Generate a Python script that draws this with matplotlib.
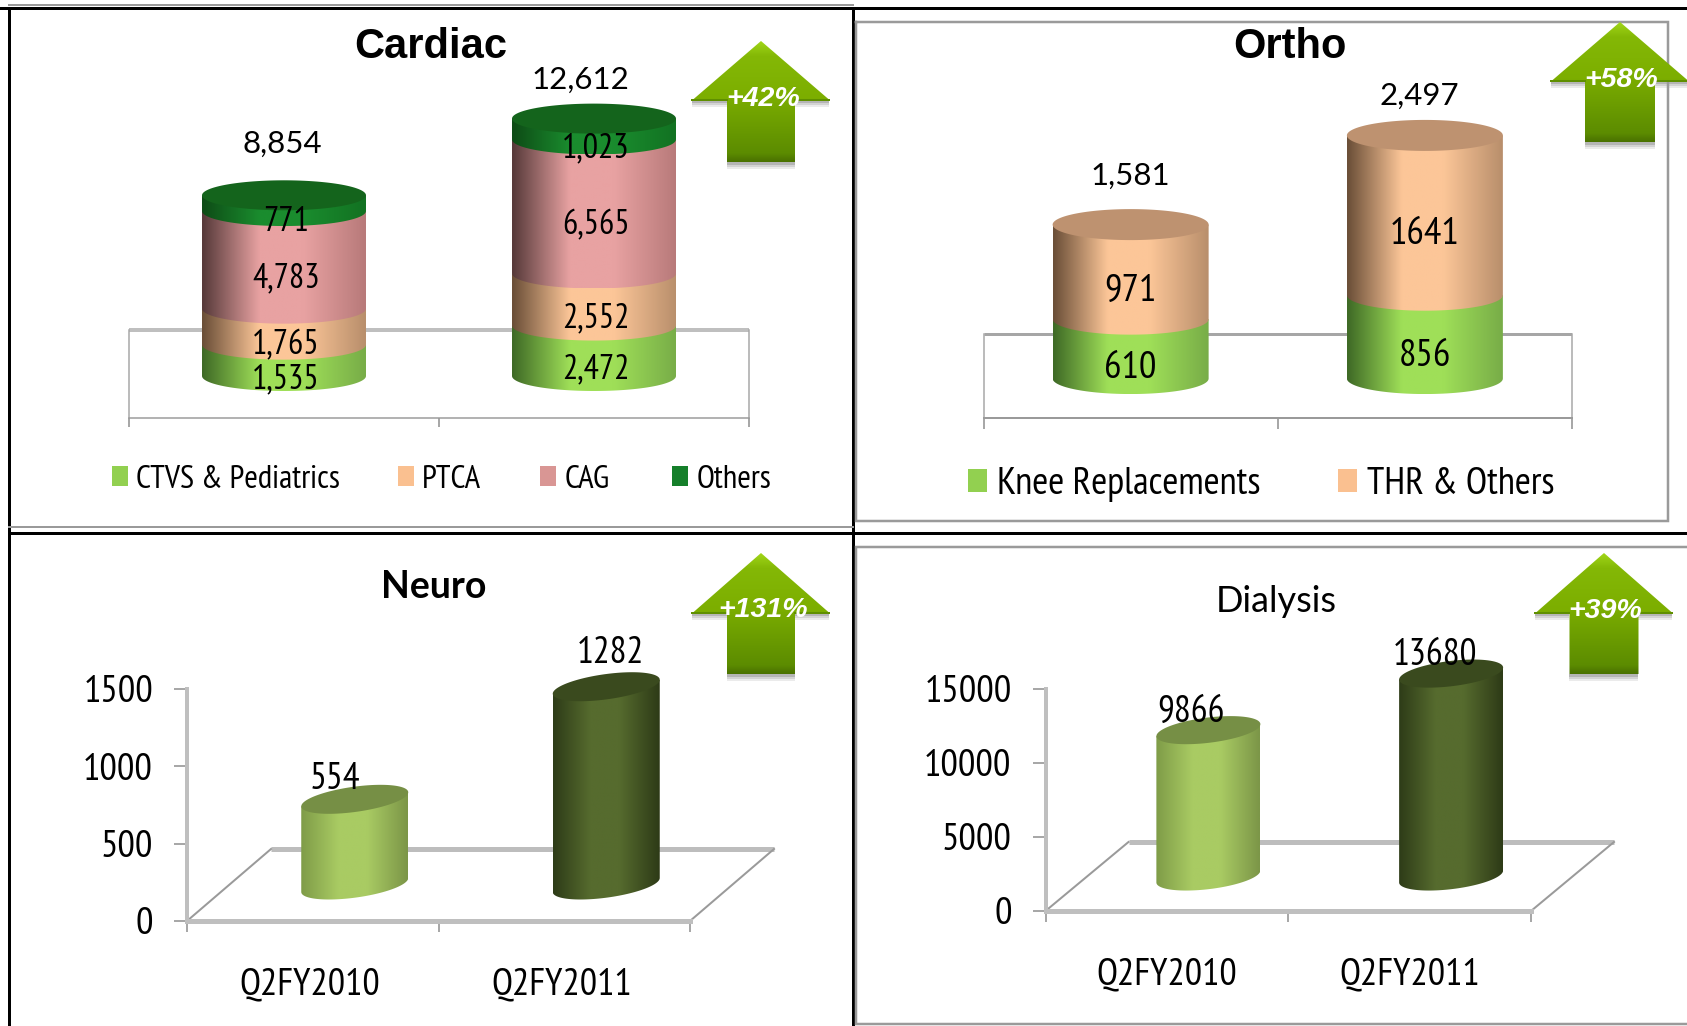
# plot.py
# Four small cylinder charts (Cardiac, Ortho, Neuro, Dialysis) with growth arrows.
import numpy as np
import matplotlib
matplotlib.use('Agg')
import matplotlib.pyplot as plt
from matplotlib.patches import Polygon, Rectangle

W, H = 1687, 1026
NARROW = ['PT Sans Narrow', 'Archivo Narrow', 'Lato', 'DejaVu Sans']
REG = ['Lato', 'DejaVu Sans']
ARIAL = ['Liberation Sans', 'DejaVu Sans']

# Cardiac
cardiac_series = ['CTVS & Pediatrics', 'PTCA', 'CAG', 'Others']
cardiac_2010 = [1535, 1765, 4783, 771]
cardiac_2011 = [2472, 2552, 6565, 1023]
cardiac_totals = [8854, 12612]

# Ortho
ortho_series = ['Knee Replacements', 'THR & Others']
ortho_2010 = [610, 971]
ortho_2011 = [856, 1641]
ortho_totals = [1581, 2497]

# Neuro and Dialysis
quarters = ['Q2FY2010', 'Q2FY2011']
neuro_values = [554, 1282]
neuro_ticks = [0, 500, 1000, 1500]
dialysis_values = [9866, 13680]
dialysis_ticks = [0, 5000, 10000, 15000]

# side colours: left edge, centre, right edge
C_GREEN = ('#3f6a26', '#9fdf58', '#78ad48')
C_PEACH = ('#6b4f38', '#fcc698', '#b98f6c')
C_PINK = ('#573a3a', '#e8a2a2', '#b87a7a')
C_DARK = ('#0e4c16', '#1a8c2e', '#127222')
C_LIGHT = ('#7f9c48', '#a9cb63', '#7c9648')
C_OLIVE = ('#2e3c18', '#566b2e', '#2e3b17')

plt.rcParams['font.family'] = NARROW
fig = plt.figure(figsize=(W / 100, H / 100), dpi=100)


def px(v):
    return v * 0.72


def make_axes(left, top, right, bottom, units_per_px, ymin=0):
    ax = fig.add_axes([left / W, 1 - bottom / H, (right - left) / W, (bottom - top) / H])
    ax.patch.set_alpha(0)
    ax.set_xlim(0, 2)
    ax.set_ylim(ymin, ymin + (bottom - top) * units_per_px)
    ax.set_autoscale_on(False)
    for s in ['top', 'right', 'left', 'bottom']:
        ax.spines[s].set_visible(False)
    ax.set_yticks([])
    return ax


def gradient(ax, extent, colors, clip, zo):
    stops = [0, 0.35, 0.62, 1]
    rgb = np.array([matplotlib.colors.to_rgb(c) for c in (colors[0], colors[1], colors[1], colors[2])])
    xs = np.linspace(0, 1, 80)
    row = np.stack([np.interp(xs, stops, rgb[:, i]) for i in range(3)], axis=1)
    im = ax.imshow(row[None, :, :], extent=extent, aspect='auto', zorder=zo, interpolation='bilinear')
    ax.add_patch(clip)
    im.set_clip_path(clip)
    return im


def cylinder(ax, x, base, values, palettes, top_color, a, b, s=0, zo=3):
    t = np.linspace(np.pi, 2 * np.pi, 60)
    arc_x = x + a * np.cos(t)
    cum = 0
    for val, pal in zip(values, palettes):
        y0 = base + cum
        y1 = y0 + val
        pts = np.column_stack([arc_x, y0 + b * np.sin(t) + s * np.cos(t)])
        pts = np.vstack([pts, [x + a, y1 + s], [x - a, y1 - s]])
        clip = Polygon(pts, closed=True, fc='none', ec='none', zorder=zo)
        gradient(ax, [x - a, x + a, y0 - b - abs(s), y1 + abs(s)], pal, clip, zo)
        cum += val
        zo += 1
    t = np.linspace(0, 2 * np.pi, 120)
    face = np.column_stack([x + a * np.cos(t), base + cum + b * np.sin(t) + s * np.cos(t)])
    ax.add_patch(Polygon(face, closed=True, fc=top_color, ec='none', zorder=zo))


def floor_box(ax, back_y, color, back_w, side_w, front_w, tick_len):
    # flat "floor" of the stacked charts: back line, two sides, bottom axis
    ax.plot([0, 2], [back_y, back_y], color=color, lw=px(back_w), zorder=1, solid_capstyle='butt')
    for sp in ['left', 'right']:
        ax.spines[sp].set_visible(True)
        ax.spines[sp].set_color('#a6a6a6')
        ax.spines[sp].set_linewidth(px(side_w))
        ax.spines[sp].set_bounds(ax.get_ylim()[0], back_y)
    ax.spines['bottom'].set_visible(True)
    ax.spines['bottom'].set_color('#9a9a9a')
    ax.spines['bottom'].set_linewidth(px(front_w))
    ax.set_xticks([0, 1, 2])
    ax.set_xticklabels([])
    ax.tick_params(axis='x', length=px(tick_len), width=px(1.5), color='#8c8c8c')


def stacked_panel(box, upp, ymin, back_y, a_px, b_px, series, floor_style, seg_size, seg_dx):
    left, top, right, bottom = box
    ax = make_axes(left, top, right, bottom, upp, ymin)
    floor_box(ax, back_y, *floor_style)
    a = a_px * 2 / (right - left)
    b = b_px * upp
    for i, (vals, pals, topc) in enumerate(series):
        x = i + 0.5
        cylinder(ax, x, b, vals, pals, topc, a, b)
        cum = 0
        for v in vals:
            lab = f'{v:,}' if seg_size[1] else f'{v}'
            ax.text(x + seg_dx * 2 / (right - left), cum + v / 2 - 4 * upp, lab, ha='center',
                    va='center', fontsize=seg_size[0], color='black', zorder=20)
            cum += v
    return ax


def bar_panel(box, upp, ticks, values, dx_px, dy_px, a_px, b_px, s_px, label_off, lab_x):
    left, top, right, bottom = box
    ax = make_axes(left, top, right, bottom, upp)
    xu = 2 / (right - left)
    dx, dy = dx_px * xu, dy_px * upp
    # floor: front edge is the bottom spine, back edge and sides are lines
    ax.plot([dx, 2 + dx], [dy, dy], color='#bdbdbd', lw=px(5), zorder=1, clip_on=False, solid_capstyle='butt')
    for x0 in [0, 2]:
        ax.plot([x0, x0 + dx], [0, dy], color='#9a9a9a', lw=px(2), zorder=1, clip_on=False)
    ax.spines['left'].set_visible(True)
    ax.spines['left'].set_color('#bfbfbf')
    ax.spines['left'].set_linewidth(px(4))
    ax.spines['left'].set_bounds(ticks[0], ticks[-1])
    ax.spines['bottom'].set_visible(True)
    ax.spines['bottom'].set_color('#bfbfbf')
    ax.spines['bottom'].set_linewidth(px(5))
    ax.set_yticks(ticks)
    ax.set_yticklabels([str(t) for t in ticks], fontsize=28)
    ax.tick_params(axis='y', length=px(13), width=px(1.5), color='#8c8c8c', pad=px(21))
    ax.set_xticks([0, 1, 2])
    ax.set_xticklabels([])
    ax.tick_params(axis='x', which='major', length=px(11), width=px(1.5), color='#8c8c8c')
    ax.set_xticks(lab_x, minor=True)
    ax.set_xticklabels(quarters, minor=True, fontsize=27.5)
    ax.tick_params(axis='x', which='minor', length=0, pad=px(46))
    pals = [C_LIGHT, C_OLIVE]
    tops = ['#768f45', '#3a4a1e']
    for i, v in enumerate(values):
        x = i + 0.5 + dx / 2
        cylinder(ax, x, dy / 2, [v], [pals[i]], tops[i], a_px * xu, b_px * upp, s_px * upp)
        ax.annotate(str(v), (i + 0.5, v), xytext=(px(label_off[i][0]), px(label_off[i][1])),
                    textcoords='offset points', ha='center', va='center', fontsize=27, zorder=20,
                    annotation_clip=False)
    return ax


cardiac_ax = stacked_panel((129, 60, 749, 418), 49.0, -1323, 2989, 82, 15,
                           [(cardiac_2010, [C_GREEN, C_PEACH, C_PINK, C_DARK], '#14641c'),
                            (cardiac_2011, [C_GREEN, C_PEACH, C_PINK, C_DARK], '#14641c')],
                           ('#bfbfbf', 4, 1.5, 1.5, 9), (24.5, True), 2)
for i, off in enumerate([(-2, 67), (-14, 54)]):
    cardiac_ax.annotate(f'{cardiac_totals[i]:,}', (i + 0.5, cardiac_totals[i]), xytext=(px(off[0]), px(off[1])),
                        textcoords='offset points', ha='center', va='center', fontsize=22.5,
                        family=REG, annotation_clip=False)

ortho_ax = stacked_panel((983.5, 60, 1572, 418), 10.27, -246, 616, 78, 15.5,
                         [(ortho_2010, [C_GREEN, C_PEACH], '#be9270'),
                          (ortho_2011, [C_GREEN, C_PEACH], '#be9270')],
                         ('#a6a6a6', 3, 1.5, 2, 11), (28, False), 0)
for i, off in enumerate([(0, 64), (-6, 55)]):
    ortho_ax.annotate(f'{ortho_totals[i]:,}', (i + 0.5, ortho_totals[i]), xytext=(px(off[0]), px(off[1])),
                      textcoords='offset points', ha='center', va='center', fontsize=22.5,
                      family=REG, annotation_clip=False)

bar_panel((187, 600, 690, 921), 1500 / 232, neuro_ticks, neuro_values, 84, 72, 53.5, 12.7, 7,
          [(22, 56), (46, 69)], [0.49, 1.49])
bar_panel((1045.5, 600, 1531, 911), 15000 / 222.5, dialysis_ticks, dialysis_values, 83, 69, 52, 12.7, 6,
          [(24, 52), (25, 53)], [0.5, 1.5])

# overlay in image pixels for frames, titles, legends and arrows
ov = fig.add_axes([0, 0, 1, 1], zorder=10)
ov.set_xlim(0, W)
ov.set_ylim(H, 0)
ov.axis('off')
ov.patch.set_alpha(0)

# frames
for xs, ys, c, lw in [([0, W], [8, 8], 'black', 3), ([9, 9], [8, H], 'black', 3), ([853, 853], [8, H], 'black', 3),
                      ([9, W], [533, 533], 'black', 3), ([9, 853], [5, 5], '#9a9a9a', 2),
                      ([9, 853], [527, 527], '#9a9a9a', 2),
                      ([856, 1668, 1668, 856, 856], [22, 22, 521, 521, 22], '#9a9a9a', 2.5),
                      ([W, 856, 856, W], [547, 547, 1024, 1024], '#9a9a9a', 2.5)]:
    ov.plot(xs, ys, color=c, lw=px(lw), solid_joinstyle='miter')

# titles
ov.text(431, 47, 'Cardiac', ha='center', va='center', fontsize=30, fontweight='bold', family=ARIAL)
ov.text(1290, 47, 'Ortho', ha='center', va='center', fontsize=30, fontweight='bold', family=ARIAL)
ov.text(434, 587, 'Neuro', ha='center', va='center', fontsize=27, fontweight='bold', family=REG)
ov.text(1276, 601, 'Dialysis', ha='center', va='center', fontsize=26, family=REG)

# legends
cardiac_legend_x = [(112, 136), (398, 422), (540, 565), (672, 697)]
cardiac_legend_c = ['#92d050', '#fac090', '#d99694', '#157f2a']
for (sq, tx), lab, c in zip(cardiac_legend_x, cardiac_series, cardiac_legend_c):
    ov.add_patch(Rectangle((sq, 466), 16, 20, fc=c, ec='none'))
    ov.text(tx, 480, lab, ha='left', va='center', fontsize=23.6)
ortho_legend_x = [(968, 997), (1338, 1367)]
for (sq, tx), lab, c in zip(ortho_legend_x, ortho_series, ['#92d050', '#fac090']):
    ov.add_patch(Rectangle((sq, 469), 19, 23, fc=c, ec='none'))
    ov.text(tx, 485, lab, ha='left', va='center', fontsize=28)


def arrow(cx, tip, neck, bottom, head_half, shaft_half, label, lx, ly):
    pts = np.array([(cx, tip), (cx + head_half, neck), (cx + shaft_half, neck), (cx + shaft_half, bottom),
                    (cx - shaft_half, bottom), (cx - shaft_half, neck), (cx - head_half, neck)])
    # soft shadow under the arrow
    for k, al in zip([7, 5, 3], [0.08, 0.1, 0.14]):
        ov.add_patch(Polygon([(cx - shaft_half, bottom), (cx + shaft_half, bottom),
                              (cx + shaft_half, bottom + k), (cx - shaft_half, bottom + k)], fc='black', alpha=al, ec='none'))
        ov.add_patch(Polygon([(cx - head_half, neck), (cx - shaft_half, neck), (cx - shaft_half, neck + k),
                              (cx - head_half, neck + k)], fc='black', alpha=al, ec='none'))
        ov.add_patch(Polygon([(cx + head_half, neck), (cx + shaft_half, neck), (cx + shaft_half, neck + k),
                              (cx + head_half, neck + k)], fc='black', alpha=al, ec='none'))
    clip = Polygon(pts, closed=True, fc='none', ec='none')
    stops = [0, 0.12, 0.47, 0.5, 0.93, 1]
    cols = np.array([matplotlib.colors.to_rgb(c) for c in
                     ['#a0d518', '#84b806', '#7cae00', '#78aa00', '#5c8c00', '#4a7200']])
    ys = np.linspace(0, 1, 100)
    col = np.stack([np.interp(ys, stops, cols[:, i]) for i in range(3)], axis=1)
    im = ov.imshow(col[:, None, :], extent=[cx - head_half, cx + head_half, bottom, tip], aspect='auto', zorder=2)
    ov.add_patch(clip)
    im.set_clip_path(clip)
    ov.plot([cx - head_half, cx - shaft_half], [neck, neck], color='#5f8f00', lw=px(2), zorder=3)
    ov.plot([cx + shaft_half, cx + head_half], [neck, neck], color='#5f8f00', lw=px(2), zorder=3)
    ov.text(lx, ly, label, color='white', fontsize=20.5, fontweight='bold', fontstyle='italic',
            ha='center', va='center', family=ARIAL, zorder=5)


arrow(761, 41, 100, 162, 68.5, 34, '+42%', 763, 99)
arrow(1620, 22, 81, 142, 68.5, 35, '+58%', 1621, 80)
arrow(761, 553, 613, 674, 68.5, 34, '+131%', 763, 610)
arrow(1604, 553, 613, 674, 68.5, 34.5, '+39%', 1605, 611)
ov.set_xlim(0, W)
ov.set_ylim(H, 0)

plt.savefig('out.png', dpi=100)
